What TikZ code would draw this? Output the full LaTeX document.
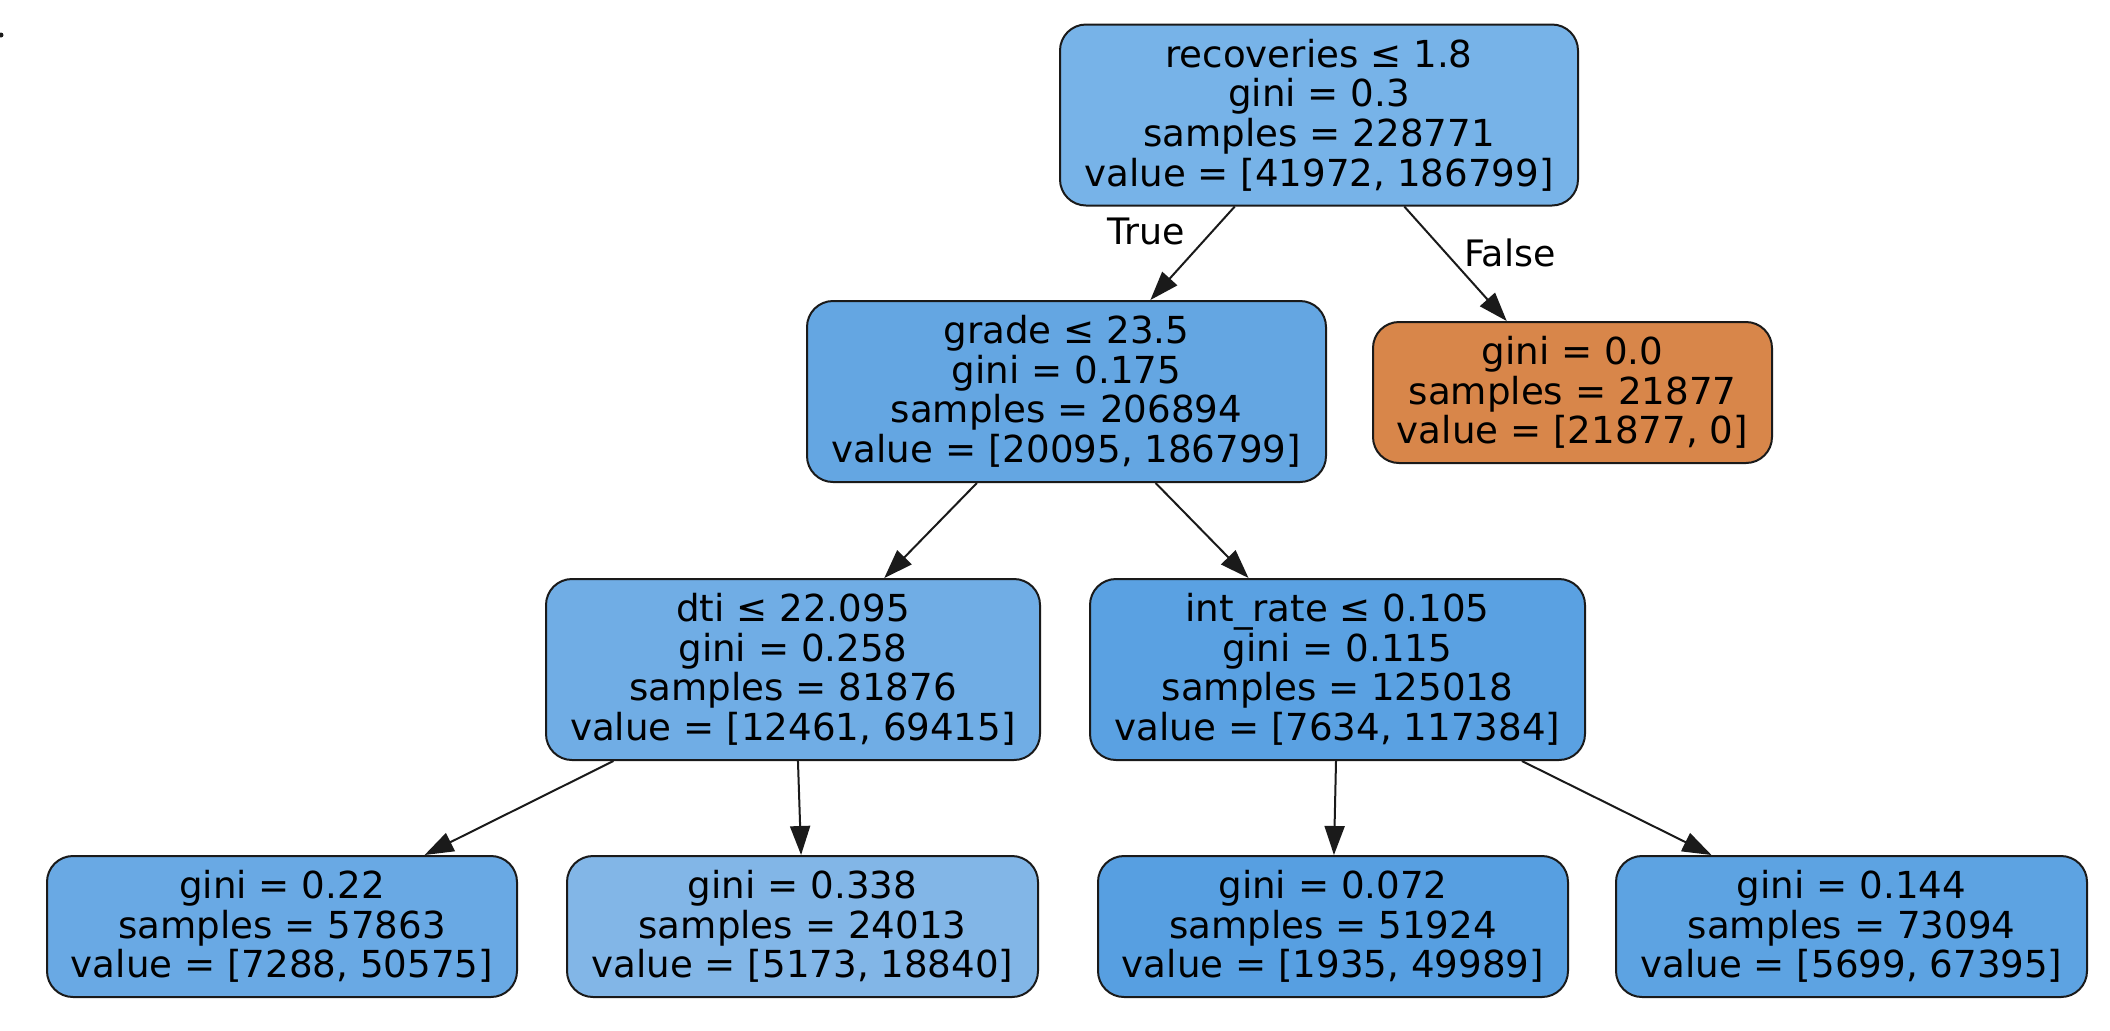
\documentclass[tikz,border=0pt]{standalone}
\usepackage{fontspec}
\setmainfont{DejaVu Sans}
\usetikzlibrary{arrows.meta,calc}
\definecolor{cRoot}{HTML}{77B3E8}
\definecolor{cGrade}{HTML}{64A6E2}
\definecolor{cOrange}{HTML}{D8864A}
\definecolor{cDti}{HTML}{70ADE5}
\definecolor{cInt}{HTML}{5AA1E2}
\definecolor{cLeafA}{HTML}{69A9E4}
\definecolor{cLeafB}{HTML}{82B6E7}
\definecolor{cLeafC}{HTML}{579FE1}
\definecolor{cLeafD}{HTML}{5DA3E2}
\definecolor{cLine}{HTML}{1A1A1A}
\tikzset{
  tnode/.style={draw=cLine, line width=1pt, rounded corners=13pt, inner sep=0pt,
    align=center, font=\fontsize{18.6pt}{19.8pt}\selectfont, text=black},
  inner4/.style={tnode, minimum height=90.5pt},
  leaf3/.style={tnode, minimum height=70.5pt},
  edge/.style={draw=cLine, line width=1pt, -{Triangle[length=14.5pt,width=10pt]}},
  elabel/.style={font=\fontsize{18.2pt}{19.8pt}\selectfont, text=black}
}
\begin{document}
\begin{tikzpicture}[x=0.5pt,y=-0.5pt]
\useasboundingbox (0,0) rectangle (2110,1030);
\fill[cLine] (1,35) circle (2.5);
% nodes
\node[inner4, fill=cRoot, minimum width=259pt] (root) at (1319,115)
  {recoveries ≤ 1.8\\gini = 0.3\\samples = 228771\\value = [41972, 186799]};
\node[inner4, fill=cGrade, minimum width=259.5pt] (grade) at (1066.5,391.5)
  {grade ≤ 23.5\\gini = 0.175\\samples = 206894\\value = [20095, 186799]};
\node[leaf3, fill=cOrange, minimum width=199.5pt] (orange) at (1572.5,392.5)
  {gini = 0.0\\samples = 21877\\value = [21877, 0]};
\node[inner4, fill=cDti, minimum width=247pt] (dti) at (793,669.5)
  {dti ≤ 22.095\\gini = 0.258\\samples = 81876\\value = [12461, 69415]};
\node[inner4, fill=cInt, minimum width=247.5pt] (int) at (1337.5,669.5)
  {int\_rate ≤ 0.105\\gini = 0.115\\samples = 125018\\value = [7634, 117384]};
\node[leaf3, fill=cLeafA, minimum width=235pt] (l1) at (282,926.5)
  {gini = 0.22\\samples = 57863\\value = [7288, 50575]};
\node[leaf3, fill=cLeafB, minimum width=235.5pt] (l2) at (802.5,926.5)
  {gini = 0.338\\samples = 24013\\value = [5173, 18840]};
\node[leaf3, fill=cLeafC, minimum width=235pt] (l3) at (1333,926.5)
  {gini = 0.072\\samples = 51924\\value = [1935, 49989]};
\node[leaf3, fill=cLeafD, minimum width=235.5pt] (l4) at (1851.5,926.5)
  {gini = 0.144\\samples = 73094\\value = [5699, 67395]};
% edges
\draw[edge] ($(root.south west)!0.338!(root.south east)$) -- ($(grade.north west)!0.661!(grade.north east)$);
\draw[edge] ($(root.south west)!0.664!(root.south east)$) -- ($(orange.north west)!0.336!(orange.north east)$);
\draw[edge] ($(grade.south west)!0.328!(grade.south east)$) -- ($(dti.north west)!0.684!(dti.north east)$);
\draw[edge] ($(grade.south west)!0.671!(grade.south east)$) -- ($(int.north west)!0.321!(int.north east)$);
\draw[edge] ($(dti.south west)!0.138!(dti.south east)$) -- ($(l1.north west)!0.802!(l1.north east)$);
\draw[edge] ($(dti.south west)!0.510!(dti.south east)$) -- ($(l2.north west)!0.497!(l2.north east)$);
\draw[edge] ($(int.south west)!0.497!(int.south east)$) -- ($(l3.north west)!0.502!(l3.north east)$);
\draw[edge] ($(int.south west)!0.871!(int.south east)$) -- ($(l4.north west)!0.204!(l4.north east)$);
% edge labels
\node[elabel] (ltrue) at (1146,231) {True};
\node[elabel] (lfalse) at (1510,253) {False};
\end{tikzpicture}
\end{document}
